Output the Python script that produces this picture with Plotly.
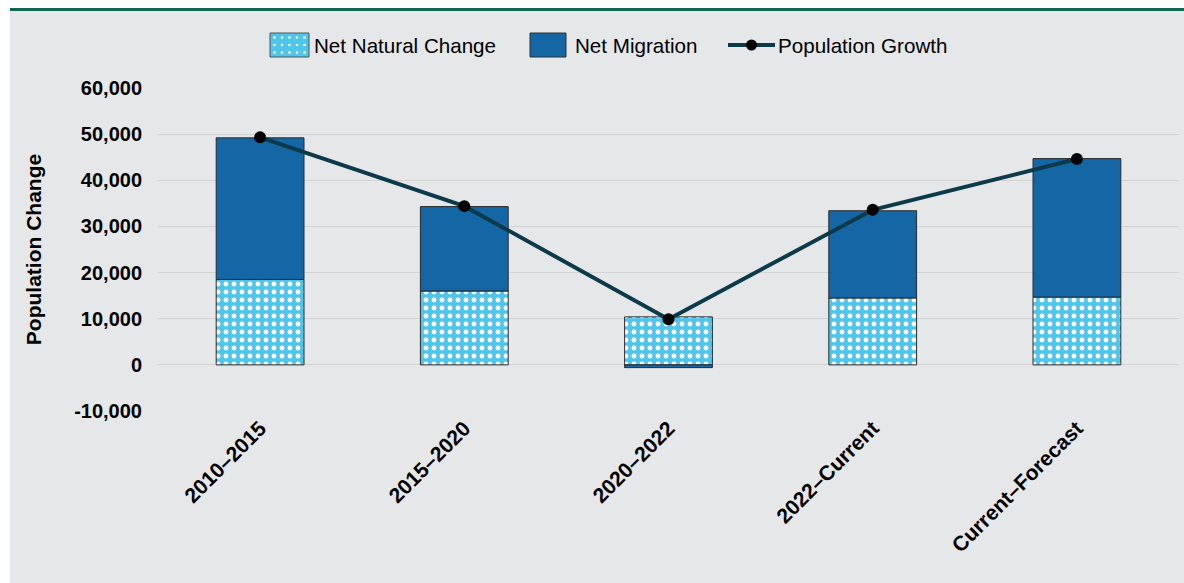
import plotly.graph_objects as go

categories = ["2010–2015", "2015–2020", "2020–2022", "2022–Current", "Current–Forecast"]
net_natural_change = [18500, 16000, 10400, 14500, 14700]
net_migration = [30700, 18300, -600, 18900, 30000]
population_growth = [49300, 34400, 9900, 33600, 44600]
y_tick_values = [-10000, 0, 10000, 20000, 30000, 40000, 50000, 60000]
y_tick_labels = ["-10,000", "0", "10,000", "20,000", "30,000", "40,000", "50,000", "60,000"]
legend_labels = ["Net Natural Change", "Net Migration", "Population Growth"]

FONT = "Liberation Sans, Arial, sans-serif"
BG = "#E6E7E8"
C_NAT = "#4EC5E9"
C_MIG = "#1466A5"
C_LINE = "#0C3A4B"
EDGE = "#2a2a2a"

# screen-pixel -> paper coordinate helpers (plot area on screen: x 158..1179, y 88..411)
PX0, PW, PY0, PH = 158, 1021, 88, 323
def px(sx):
    return (sx - PX0) / PW
def py(sy):
    return 1 + (PY0 - sy) / PH

fig = go.Figure()
fig.add_trace(go.Bar(
    x=categories, y=net_natural_change, name=legend_labels[0],
    marker=dict(color=C_NAT, line=dict(color=EDGE, width=1),
                pattern=dict(shape=".", fgcolor="white", bgcolor=C_NAT,
                             size=8, solidity=0.3, fillmode="replace")),
    width=0.43, showlegend=False,
))
fig.add_trace(go.Bar(
    x=categories, y=net_migration, name=legend_labels[1],
    marker=dict(color=C_MIG, line=dict(color=EDGE, width=1)),
    width=0.43, showlegend=False,
))
fig.add_trace(go.Scatter(
    x=categories, y=population_growth, name=legend_labels[2],
    mode="lines+markers",
    line=dict(color=C_LINE, width=4),
    marker=dict(color="black", size=12),
    showlegend=False,
))

shapes = [
    dict(type="rect", xref="paper", yref="paper", x0=px(-5), x1=px(10), y0=py(600), y1=py(-5),
         fillcolor="white", line=dict(width=0), layer="below"),
    dict(type="rect", xref="paper", yref="paper", x0=px(-5), x1=px(1200), y0=py(8), y1=py(-5),
         fillcolor="white", line=dict(width=0), layer="below"),
    dict(type="line", xref="paper", yref="paper", x0=px(10), x1=px(1200),
         y0=py(9.5), y1=py(9.5), line=dict(color="#0F6654", width=3)),
]
annotations = []
LFS = 20.6

ly = 45
shapes.append(dict(type="rect", xref="paper", yref="paper", x0=px(270), x1=px(309),
                   y0=py(57), y1=py(33), fillcolor=C_NAT, line=dict(color="#555", width=1)))
for cx in [274.5, 282, 289.5, 297, 304.5]:
    for cy in [37.5, 45, 52.5]:
        shapes.append(dict(type="circle", xref="paper", yref="paper",
                           x0=px(cx - 1.3), x1=px(cx + 1.3), y0=py(cy + 1.3), y1=py(cy - 1.3),
                           fillcolor="white", line=dict(width=0)))
annotations.append(dict(text=legend_labels[0], xref="paper", yref="paper", x=px(312), y=py(ly),
                        xanchor="left", yanchor="middle", showarrow=False,
                        font=dict(size=LFS, family=FONT, color="black")))
shapes.append(dict(type="rect", xref="paper", yref="paper", x0=px(530), x1=px(566),
                   y0=py(57), y1=py(33), fillcolor=C_MIG, line=dict(color="#333", width=1)))
annotations.append(dict(text=legend_labels[1], xref="paper", yref="paper", x=px(573), y=py(ly),
                        xanchor="left", yanchor="middle", showarrow=False,
                        font=dict(size=LFS, family=FONT, color="black")))
shapes.append(dict(type="line", xref="paper", yref="paper", x0=px(728), x1=px(775),
                   y0=py(ly), y1=py(ly), line=dict(color=C_LINE, width=4)))
shapes.append(dict(type="circle", xref="paper", yref="paper", x0=px(746), x1=px(757),
                   y0=py(ly + 5.5), y1=py(ly - 5.5), fillcolor="black", line=dict(width=0)))
annotations.append(dict(text=legend_labels[2], xref="paper", yref="paper", x=px(776), y=py(ly),
                        xanchor="left", yanchor="middle", showarrow=False,
                        font=dict(size=LFS, family=FONT, color="black")))

fig.update_layout(
    width=1184, height=583,
    barmode="relative",
    paper_bgcolor=BG, plot_bgcolor=BG,
    margin=dict(l=158, r=5, t=88, b=172),
    font=dict(family=FONT, color="black"),
    showlegend=False,
    shapes=shapes,
    annotations=annotations,
)
fig.update_xaxes(
    tickangle=-45, tickfont=dict(size=21, family=FONT, weight="bold"),
    showgrid=False, showline=False, ticks="", range=[-0.5, 4.5],
)
fig.update_yaxes(
    range=[-10000, 60000], tickvals=y_tick_values, ticktext=y_tick_labels,
    tickfont=dict(size=20, family=FONT, weight="bold"),
    showgrid=True, gridcolor="#D3D3D3", gridwidth=1,
    zeroline=True, zerolinecolor="#D3D3D3", zerolinewidth=1,
    title=dict(text="Population Change", font=dict(size=21, family=FONT, weight="bold"), standoff=26),
    ticks="", ticklabelstandoff=15,
)

fig.write_html(
    "out.html",
    config={"displayModeBar": False},
    post_script="document.body.style.margin='0';document.body.style.overflow='hidden';",
)
